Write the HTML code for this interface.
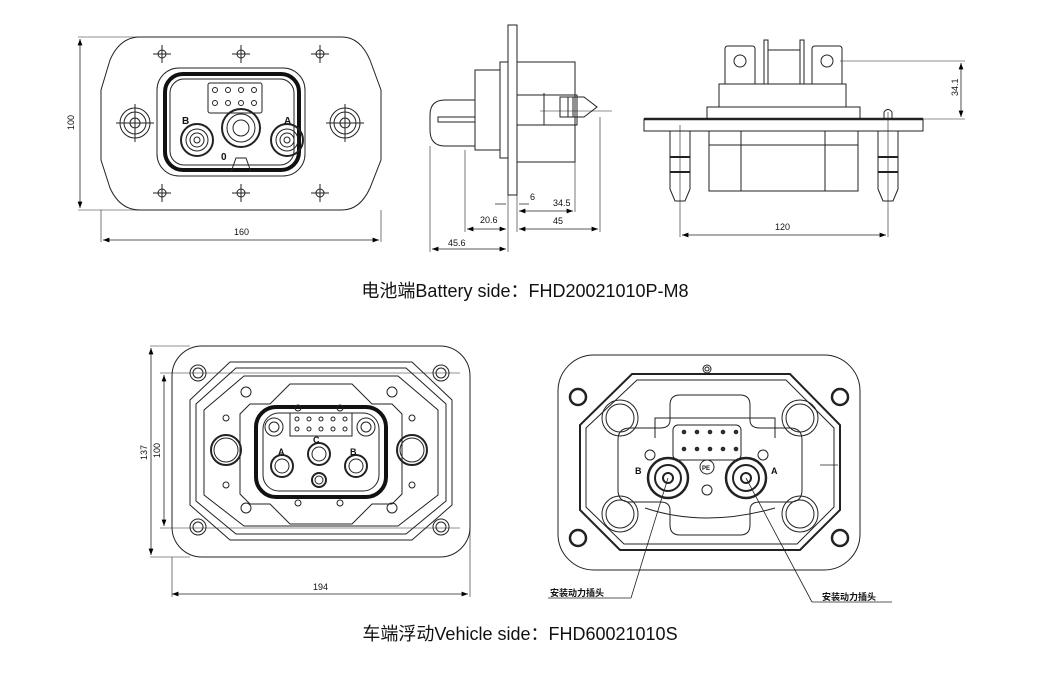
<!DOCTYPE html>
<html><head><meta charset="utf-8"><style>
html,body{margin:0;padding:0;background:#fff;}
svg{display:block;}
text{font-family:"Liberation Sans","Noto Sans CJK SC",sans-serif;}
</style></head><body>
<svg width="1050" height="675" viewBox="0 0 1050 675" xmlns="http://www.w3.org/2000/svg">
<defs>
<marker id="a" markerWidth="8" markerHeight="6" refX="8" refY="3" orient="auto-start-reverse"><path d="M0,0 L8,3 L0,6z" fill="#000"/></marker>
</defs>
<g fill="none" stroke="#222" stroke-width="1">
<!-- ===== Top-left front view ===== -->
<path d="M140,37 L342,37 Q360,37 370,60 L381,90 L381,160 L370,188 Q360,210 342,210 L140,210 Q120,210 110,188 L101,160 L101,90 L110,60 Q120,37 140,37Z"/>
<rect x="157" y="68" width="148" height="108" rx="22"/>
<rect x="165" y="74" width="134" height="96" rx="18" stroke-width="4" stroke="#111"/>
<rect x="170" y="79" width="124" height="86" rx="14"/>
<rect x="208" y="83" width="54" height="30" rx="2"/>
<g stroke-width="1"><circle cx="215" cy="90" r="2.5"/><circle cx="228" cy="90" r="2.5"/><circle cx="241" cy="90" r="2.5"/><circle cx="254" cy="90" r="2.5"/><circle cx="215" cy="103" r="2.5"/><circle cx="228" cy="103" r="2.5"/><circle cx="241" cy="103" r="2.5"/><circle cx="254" cy="103" r="2.5"/></g>
<circle cx="197" cy="140" r="16" stroke-width="2"/><circle cx="197" cy="140" r="11"/><circle cx="197" cy="140" r="7"/><circle cx="197" cy="140" r="3"/>
<circle cx="287" cy="140" r="16" stroke-width="2"/><circle cx="287" cy="140" r="11"/><circle cx="287" cy="140" r="7"/><circle cx="287" cy="140" r="3"/>
<circle cx="241" cy="128" r="19" stroke-width="2"/><circle cx="241" cy="128" r="14"/><circle cx="241" cy="128" r="8"/>
<path d="M231,172 L236,158 L246,158 L251,172"/>
<circle cx="135" cy="123" r="15"/><circle cx="135" cy="123" r="11"/><circle cx="135" cy="123" r="5"/>
<circle cx="345" cy="123" r="15"/><circle cx="345" cy="123" r="11"/><circle cx="345" cy="123" r="5"/>
<g><circle cx="162" cy="54" r="4"/><circle cx="241" cy="54" r="4"/><circle cx="320" cy="54" r="4"/><circle cx="162" cy="193" r="4"/><circle cx="241" cy="193" r="4"/><circle cx="320" cy="193" r="4"/>
<path d="M153,54h18M162,45v18M232,54h18M241,45v18M311,54h18M320,45v18M153,193h18M162,184v18M232,193h18M241,184v18M311,193h18M320,184v18M116,123h38M135,104v38M326,123h38M345,104v38"/></g>
<!-- dims -->
<path d="M78,37h80M78,210h80M101,210v32M381,210v32" stroke-width="0.6"/>
<path d="M80,39v169" marker-start="url(#a)" marker-end="url(#a)" stroke-width="0.8"/>
<path d="M103,240h276" marker-start="url(#a)" marker-end="url(#a)" stroke-width="0.8"/>

<!-- ===== Top-middle side view ===== -->
<rect x="508" y="25" width="9" height="170"/>
<rect x="500" y="62" width="8" height="96"/>
<rect x="475" y="70" width="25" height="80"/>
<path d="M445,100 L475,100 M445,100 Q430,100 430,115 L430,130 Q430,146 445,146 L475,146"/>
<rect x="438" y="117" width="37" height="5"/>
<rect x="517" y="62" width="58" height="100"/>
<path d="M517,95h60v30h-60M560,97h24l13,10l-13,10h-24z"/>
<path d="M568,97v20M573,97v20M544,93v32"/>
<path d="M540,111h72" stroke-width="0.6"/>
<!-- dims -->
<path d="M430,146v106M465,150v82M508,195v57M517,195v37M575,162v50M600,117v115" stroke-width="0.6"/>
<path d="M432,249h74" marker-start="url(#a)" marker-end="url(#a)" stroke-width="0.8"/>
<path d="M467,229h39" marker-start="url(#a)" marker-end="url(#a)" stroke-width="0.8"/>
<path d="M519,229h79" marker-start="url(#a)" marker-end="url(#a)" stroke-width="0.8"/>
<path d="M519,211h54" marker-start="url(#a)" marker-end="url(#a)" stroke-width="0.8"/>
<path d="M495,204h11M519,204h10" stroke-width="0.8"/>

<!-- ===== Top-right view ===== -->
<rect x="644" y="119" width="279" height="12"/>
<path d="M644,119h279" stroke-width="2.5"/>
<rect x="709" y="131" width="149" height="60"/>
<path d="M741,131v60M825,131v60M709,145h149"/>
<rect x="707" y="107" width="153" height="12"/>
<rect x="719" y="84" width="127" height="23"/>
<path d="M725,84v-35q0,-3 3,-3h24q3,0 3,3v35M812,84v-35q0,-3 3,-3h24q3,0 3,3v35"/>
<circle cx="740" cy="61" r="6"/><circle cx="827" cy="61" r="6"/>
<path d="M764,84v-44h4v44M800,84v-44h4v44M768,50h32"/>
<path d="M670,131v58l5,12h10l5,-12v-58zM878,131v58l5,12h10l5,-12v-58z"/>
<path d="M670,157h20M670,172h20M878,157h20M878,172h20" stroke-width="2"/>
<path d="M884,119v-7q4,-5 8,0v7"/>
<path d="M680,125v112M888,112v125M840,61h125M860,119h105" stroke-width="0.6"/>
<path d="M682,235h204" marker-start="url(#a)" marker-end="url(#a)" stroke-width="0.8"/>
<path d="M961,63v54" marker-start="url(#a)" marker-end="url(#a)" stroke-width="0.8"/>

<!-- ===== Bottom-left view ===== -->
<rect x="172" y="346" width="298" height="211" rx="30"/>
<path d="M230,362 L412,362 L452,400 L452,505 L412,540 L230,540 L190,505 L190,400Z"/>
<path d="M236,368 L406,368 L446,404 L446,501 L406,534 L236,534 L196,501 L196,404Z"/>
<path d="M244,376 L398,376 L438,410 L438,495 L398,526 L244,526 L204,495 L204,410Z"/>
<path d="M290,384 h62 l20,20 h20 l10,10 v80 l-10,10 h-20 l-20,20 h-62 l-20,-20 h-20 l-10,-10 v-80 l10,-10 h20z"/>
<rect x="256" y="407" width="130" height="90" rx="20" stroke-width="4" stroke="#111"/>
<rect x="263" y="413" width="116" height="78" rx="16"/>
<rect x="290" y="413" width="62" height="23"/>
<g><circle cx="297" cy="419" r="2"/><circle cx="309" cy="419" r="2"/><circle cx="321" cy="419" r="2"/><circle cx="333" cy="419" r="2"/><circle cx="345" cy="419" r="2"/><circle cx="297" cy="429" r="2"/><circle cx="309" cy="429" r="2"/><circle cx="321" cy="429" r="2"/><circle cx="333" cy="429" r="2"/><circle cx="345" cy="429" r="2"/></g>
<circle cx="274" cy="427" r="9"/><circle cx="274" cy="427" r="5"/>
<circle cx="366" cy="427" r="9"/><circle cx="366" cy="427" r="5"/>
<circle cx="282" cy="466" r="11" stroke-width="2"/><circle cx="282" cy="466" r="7"/>
<circle cx="356" cy="466" r="11" stroke-width="2"/><circle cx="356" cy="466" r="7"/>
<circle cx="319" cy="454" r="11" stroke-width="2"/><circle cx="319" cy="454" r="7"/>
<circle cx="319" cy="480" r="7" stroke-width="2"/><circle cx="319" cy="480" r="4"/>
<circle cx="226" cy="450" r="15" stroke-width="2"/><circle cx="226" cy="450" r="12"/>
<circle cx="412" cy="450" r="15" stroke-width="2"/><circle cx="412" cy="450" r="12"/>
<g><circle cx="198" cy="373" r="8"/><circle cx="198" cy="373" r="5"/><circle cx="441" cy="373" r="8"/><circle cx="441" cy="373" r="5"/><circle cx="198" cy="527" r="8"/><circle cx="198" cy="527" r="5"/><circle cx="441" cy="527" r="8"/><circle cx="441" cy="527" r="5"/>
<circle cx="246" cy="392" r="5"/><circle cx="392" cy="392" r="5"/><circle cx="246" cy="508" r="5"/><circle cx="392" cy="508" r="5"/>
<circle cx="298" cy="408" r="3"/><circle cx="340" cy="408" r="3"/><circle cx="298" cy="503" r="3"/><circle cx="340" cy="503" r="3"/>
<circle cx="226" cy="418" r="3"/><circle cx="412" cy="418" r="3"/><circle cx="226" cy="485" r="3"/><circle cx="412" cy="485" r="3"/></g>
<path d="M150,346h40M160,373h300M160,528h300M150,557h40M172,557v40M470,380v217" stroke-width="0.6"/>
<path d="M151,348v207" marker-start="url(#a)" marker-end="url(#a)" stroke-width="0.8"/>
<path d="M164,375v151" marker-start="url(#a)" marker-end="url(#a)" stroke-width="0.8"/>
<path d="M172,594h296" marker-start="url(#a)" marker-end="url(#a)" stroke-width="0.8"/>

<!-- ===== Bottom-right view ===== -->
<rect x="558" y="355" width="302" height="215" rx="36"/>
<path d="M632,374 L790,374 L840,425 L840,510 L800,550 L620,550 L580,510 L580,425Z" stroke-width="2"/>
<path d="M637,380 L786,380 L834,428 L834,507 L797,544 L624,544 L586,507 L586,428Z"/>
<path d="M680,395 h60 q10,0 10,10 v15 q0,8 10,8 h30 q12,0 12,12 v50 q0,12 -12,12 h-30 q-10,0 -10,8 v15 q0,10 -10,10 h-60 q-10,0 -10,-10 v-15 q0,-8 -10,-8 h-30 q-12,0 -12,-12 v-50 q0,-12 12,-12 h30 q10,0 10,-8 v-15 q0,-10 10,-10z"/>
<path d="M655,438 v-20 h120 v20 M645,508 q60,20 130,0" />
<rect x="673" y="425" width="68" height="35" rx="5"/>
<g fill="#333"><circle cx="684" cy="432" r="1.8"/><circle cx="697" cy="432" r="1.8"/><circle cx="710" cy="432" r="1.8"/><circle cx="723" cy="432" r="1.8"/><circle cx="736" cy="432" r="1.8"/><circle cx="684" cy="449" r="1.8"/><circle cx="697" cy="449" r="1.8"/><circle cx="710" cy="449" r="1.8"/><circle cx="723" cy="449" r="1.8"/><circle cx="736" cy="449" r="1.8"/></g>
<circle cx="668" cy="478" r="20" stroke-width="2.5"/><circle cx="668" cy="478" r="13" stroke-width="2"/><circle cx="668" cy="478" r="5" stroke-width="2"/>
<circle cx="746" cy="478" r="20" stroke-width="2.5"/><circle cx="746" cy="478" r="13" stroke-width="2"/><circle cx="746" cy="478" r="5" stroke-width="2"/>
<circle cx="707" cy="467" r="7"/><circle cx="707" cy="490" r="5"/>
<circle cx="650" cy="455" r="5"/><circle cx="763" cy="455" r="5"/>
<circle cx="707" cy="369" r="4"/><circle cx="707" cy="369" r="2"/>
<g stroke-width="2.5"><circle cx="578" cy="397" r="8"/><circle cx="840" cy="397" r="8"/><circle cx="578" cy="538" r="8"/><circle cx="840" cy="538" r="8"/></g>
<g><circle cx="620" cy="418" r="18"/><circle cx="620" cy="418" r="14"/><circle cx="800" cy="418" r="18"/><circle cx="800" cy="418" r="14"/><circle cx="620" cy="514" r="18"/><circle cx="620" cy="514" r="14"/><circle cx="800" cy="514" r="18"/><circle cx="800" cy="514" r="14"/></g>
<path d="M820,465h18M668,478 L631,598 M548,598 h83 M746,478 L812,602 M812,602 h80" stroke-width="0.8"/>
</g>
<g fill="#111" font-weight="bold" font-size="10">
<text x="182" y="124">B</text><text x="284" y="124">A</text><text x="221" y="160">0</text>
<text x="278" y="455" font-size="9">A</text><text x="313" y="443" font-size="9">C</text><text x="350" y="455" font-size="9">B</text>
<text x="635" y="474" font-size="9">B</text><text x="771" y="474" font-size="9">A</text><text x="702" y="470" font-size="6">PE</text>
</g>
<g fill="#111" font-size="9">
<text x="74" y="130" transform="rotate(-90 74 130)">100</text>
<text x="234" y="235">160</text>
<text x="448" y="246">45.6</text><text x="480" y="223">20.6</text><text x="530" y="200">6</text><text x="553" y="206">34.5</text><text x="553" y="224">45</text>
<text x="775" y="230">120</text>
<text x="958" y="96" transform="rotate(-90 958 96)">34.1</text>
<text x="147" y="460" transform="rotate(-90 147 460)">137</text>
<text x="160" y="458" transform="rotate(-90 160 458)">100</text>
<text x="313" y="590">194</text>
<text x="550" y="596" font-weight="bold">安装动力插头</text>
<text x="822" y="600" font-weight="bold">安装动力插头</text>
</g>
<text x="525" y="297" text-anchor="middle" font-size="18" fill="#111">电池端Battery side：FHD20021010P-M8</text>
<text x="520" y="640" text-anchor="middle" font-size="18" fill="#111">车端浮动Vehicle side：FHD60021010S</text>
</svg>
</body></html>
